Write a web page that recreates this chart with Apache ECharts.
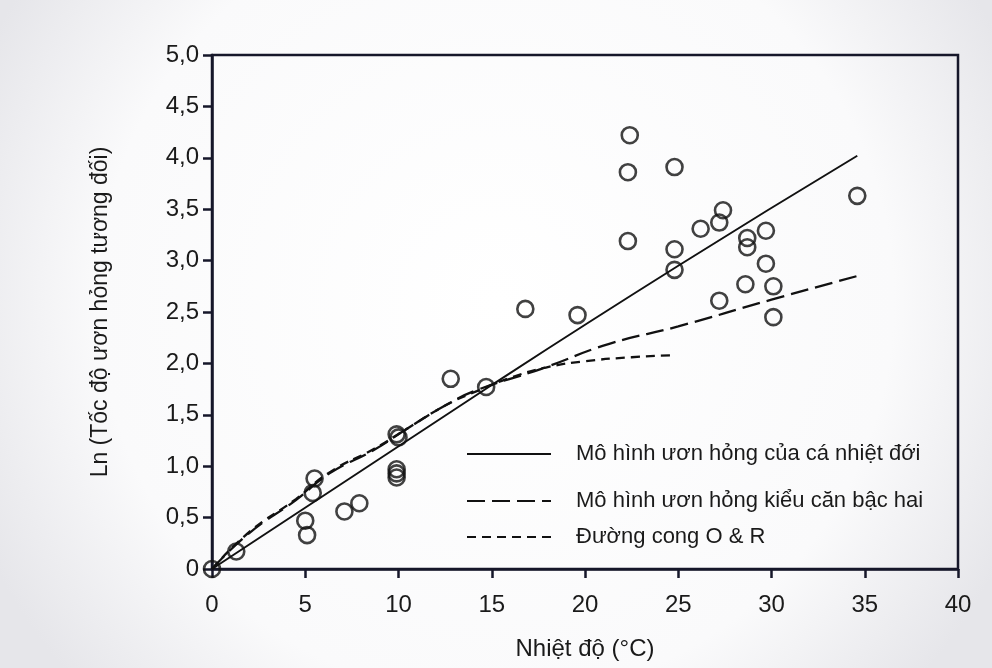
<!DOCTYPE html>
<html>
<head>
<meta charset="utf-8">
<title>Ln tốc độ ươn hỏng tương đối theo nhiệt độ</title>
<script src="https://cdn.jsdelivr.net/npm/echarts@6/dist/echarts.min.js"></script>
<style>
  html, body { margin: 0; padding: 0; background: #f6f6f7; }
  #chart { width: 992px; height: 668px; }
</style>
</head>
<body>
<div id="chart"></div>
<script>
// Observed spoilage rates: temperature (°C) and ln(relative rate)
const obsTemp = [0, 1.3, 5.0, 5.1, 5.5, 5.4, 7.1, 7.9, 9.9, 10.0, 9.9, 9.9, 9.9, 12.8, 14.7, 16.8, 19.6,
  22.4, 22.3, 22.3, 24.8, 24.8, 24.8, 26.2, 27.2, 27.4, 27.2, 28.7, 28.7, 28.6, 29.7, 29.7, 30.1, 30.1, 34.6];
const obsLnRate = [0, 0.17, 0.47, 0.33, 0.88, 0.74, 0.56, 0.64, 1.31, 1.28, 0.97, 0.93, 0.89, 1.85, 1.77, 2.53, 2.47,
  4.22, 3.86, 3.19, 3.91, 3.11, 2.91, 3.31, 3.37, 3.49, 2.61, 3.22, 3.13, 2.77, 3.29, 2.97, 2.75, 2.45, 3.63];

// Tropical fish spoilage model
const tropicalTemp = [0, 15, 25, 34.6];
const tropicalLn = [0, 1.79, 2.95, 4.02];

// Square-root spoilage model
const sqrtTemp = [0, 2, 4.5, 6.3, 8.7, 10.5, 12.6, 14.2, 17.7, 21.3, 25, 30, 34.6];
const sqrtLn = [0, 0.35, 0.67, 0.93, 1.16, 1.37, 1.6, 1.74, 1.95, 2.19, 2.36, 2.62, 2.85];

// O & R curve
const orTemp = [0, 2, 4.5, 6.3, 8.7, 10.5, 12.6, 14.2, 16, 17.9, 20, 22.5, 24.8];
const orLn = [0, 0.36, 0.68, 0.94, 1.17, 1.37, 1.6, 1.73, 1.86, 1.96, 2.02, 2.06, 2.08];

const seriesNames = ['Mô hình ươn hỏng của cá nhiệt đới', 'Mô hình ươn hỏng kiểu căn bậc hai', 'Đường cong O & R'];
const xTicks = [0, 5, 10, 15, 20, 25, 30, 35, 40];
const yTickLabels = ['0', '0,5', '1,0', '1,5', '2,0', '2,5', '3,0', '3,5', '4,0', '4,5', '5,0'];

const zip = (xs, ys) => xs.map((x, i) => [x, ys[i]]);

const ink = '#16172a';
const font = 'Liberation Sans, Arial, sans-serif';

const legendBase = {
  orient: 'horizontal',
  left: 461,
  itemWidth: 84,
  itemHeight: 14,
  itemGap: 0,
  itemStyle: { opacity: 0 },
  textStyle: { fontFamily: font, fontSize: 22, color: '#1a1a1a', padding: [0, 0, 0, 20] }
};

const chart = echarts.init(document.getElementById('chart'), null, { renderer: 'canvas' });
chart.setOption({
  backgroundColor: {
    type: 'radial', x: 0.5, y: 0.45, r: 0.85,
    colorStops: [
      { offset: 0, color: '#ffffff' },
      { offset: 0.7, color: '#fafafb' },
      { offset: 1, color: '#e6e6ea' }
    ]
  },
  animation: false,
  grid: {
    left: 212, right: 34, top: 55, bottom: 99,
    show: true, borderColor: ink, borderWidth: 2.5, backgroundColor: 'transparent'
  },
  legend: [
    Object.assign({}, legendBase, { top: 438, data: [seriesNames[0]] }),
    Object.assign({}, legendBase, { top: 485, data: [seriesNames[1]] }),
    Object.assign({}, legendBase, { top: 521, data: [seriesNames[2]] })
  ],
  xAxis: {
    type: 'value', min: 0, max: 40, interval: 5,
    name: 'Nhiệt độ (°C)', nameLocation: 'middle', nameGap: 68,
    nameTextStyle: { fontFamily: font, fontSize: 24, color: '#1a1a1a' },
    axisLine: { show: true, lineStyle: { color: ink, width: 2.5 } },
    axisTick: { show: true, inside: false, length: 9, lineStyle: { color: ink, width: 2.5 } },
    axisLabel: {
      fontFamily: font, fontSize: 24, color: '#1a1a1a', margin: 24,
      formatter: v => String(xTicks[Math.round(v / 5)])
    },
    splitLine: { show: false }
  },
  yAxis: {
    type: 'value', min: 0, max: 5, interval: 0.5,
    name: 'Ln (Tốc độ ươn hỏng tương đối)', nameLocation: 'middle', nameGap: 100, nameRotate: 90,
    nameTextStyle: { fontFamily: font, fontSize: 23, color: '#1a1a1a' },
    axisLine: { show: true, lineStyle: { color: ink, width: 2.5 } },
    axisTick: { show: true, inside: false, length: 9, lineStyle: { color: ink, width: 2.5 } },
    axisLabel: {
      fontFamily: font, fontSize: 24, color: '#1a1a1a', margin: 13,
      formatter: v => yTickLabels[Math.round(v * 2)]
    },
    splitLine: { show: false }
  },
  series: [
    {
      name: seriesNames[0], type: 'line', data: zip(tropicalTemp, tropicalLn),
      symbol: 'none', smooth: true, z: 3,
      lineStyle: { color: '#111', width: 2, type: 'solid' }, itemStyle: { color: '#111' }
    },
    {
      name: seriesNames[1], type: 'line', data: zip(sqrtTemp, sqrtLn),
      symbol: 'none', smooth: true, z: 3,
      lineStyle: { color: '#111', width: 2.3, type: [18, 7] }, itemStyle: { color: '#111' }
    },
    {
      name: seriesNames[2], type: 'line', data: zip(orTemp, orLn),
      symbol: 'none', smooth: true, z: 3,
      lineStyle: { color: '#111', width: 2.3, type: [9, 6] }, itemStyle: { color: '#111' }
    },
    {
      name: 'Số liệu', type: 'scatter', data: zip(obsTemp, obsLnRate),
      symbol: 'circle', symbolSize: 16, z: 4,
      itemStyle: { color: 'rgba(0,0,0,0)', borderColor: '#111', borderWidth: 2.6 }
    }
  ]
});
</script>
</body>
</html>
